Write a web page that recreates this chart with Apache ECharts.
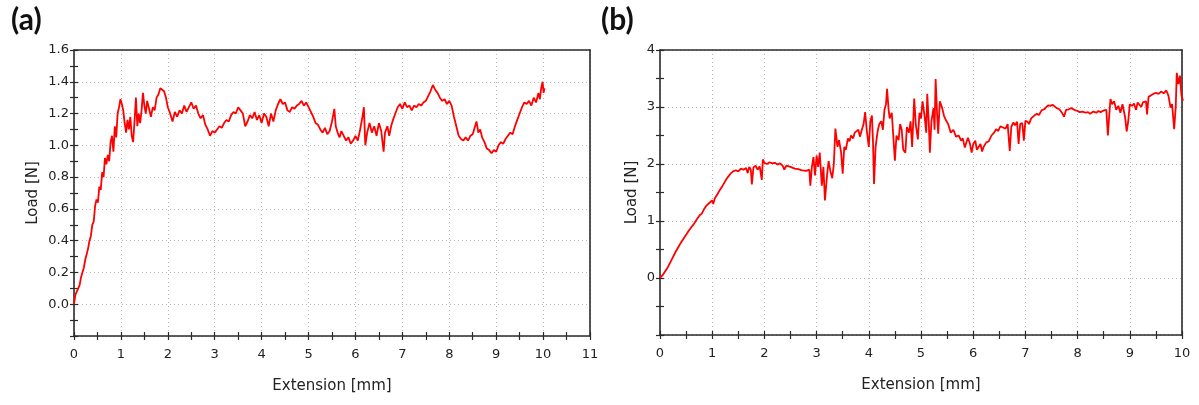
<!DOCTYPE html>
<html>
<head>
<meta charset="utf-8">
<script src="https://cdn.jsdelivr.net/npm/echarts@6/dist/echarts.min.js"></script>
<style>
html,body{margin:0;padding:0;background:#fff;}
#c{width:1199px;height:405px;}
</style>
</head>
<body>
<div id="c"></div>
<script>
// ---- Data: panel (a) ----
const aExt = [0.00,0.03,0.06,0.09,0.12,0.15,0.18,0.21,0.24,0.27,0.30,0.33,0.36,0.39,0.42,0.45,0.48,0.51,0.54,0.57,0.60,0.63,0.66,0.69,0.72,0.75,0.78,0.81,0.84,0.87,0.90,0.93,0.96,0.99,1.02,1.05,1.08,1.11,1.14,1.17,1.20,1.23,1.26,1.29,1.32,1.35,1.38,1.41,1.44,1.47,1.50,1.53,1.56,1.60,1.64,1.68,1.72,1.76,1.80,1.84,1.88,1.92,1.96,2.00,2.05,2.10,2.15,2.20,2.25,2.30,2.35,2.40,2.45,2.50,2.55,2.60,2.65,2.70,2.75,2.80,2.85,2.90,2.95,3.00,3.05,3.10,3.15,3.20,3.25,3.30,3.35,3.40,3.45,3.50,3.55,3.60,3.65,3.70,3.75,3.80,3.85,3.90,3.95,4.00,4.05,4.10,4.15,4.20,4.25,4.30,4.35,4.40,4.45,4.50,4.55,4.60,4.65,4.70,4.75,4.80,4.85,4.90,4.95,5.00,5.05,5.10,5.15,5.20,5.25,5.30,5.35,5.40,5.45,5.50,5.55,5.58,5.62,5.66,5.70,5.75,5.80,5.85,5.90,5.95,6.00,6.05,6.10,6.15,6.18,6.21,6.25,6.30,6.35,6.40,6.45,6.50,6.55,6.60,6.63,6.68,6.72,6.76,6.80,6.85,6.90,6.95,7.00,7.05,7.10,7.15,7.20,7.25,7.30,7.35,7.40,7.45,7.50,7.55,7.60,7.65,7.70,7.75,7.80,7.85,7.90,7.95,8.00,8.05,8.10,8.15,8.20,8.25,8.30,8.35,8.40,8.45,8.50,8.55,8.58,8.62,8.66,8.70,8.75,8.80,8.85,8.90,8.95,9.00,9.05,9.10,9.15,9.20,9.25,9.30,9.35,9.40,9.45,9.50,9.55,9.60,9.65,9.70,9.75,9.80,9.85,9.90,9.93,9.96,9.99,10.01,10.03];
const aLoad = [0.00,0.06,0.05,0.10,0.12,0.17,0.16,0.23,0.28,0.27,0.35,0.40,0.43,0.50,0.52,0.62,0.66,0.64,0.74,0.72,0.83,0.80,0.92,0.88,0.94,0.90,1.02,1.06,0.96,1.12,1.05,1.20,1.24,1.29,1.26,1.22,1.14,1.08,1.16,1.10,1.18,1.06,1.02,1.15,1.30,1.12,1.20,1.14,1.22,1.33,1.25,1.20,1.28,1.23,1.18,1.24,1.22,1.30,1.32,1.36,1.37,1.34,1.30,1.24,1.20,1.15,1.21,1.18,1.22,1.20,1.25,1.21,1.24,1.27,1.23,1.25,1.20,1.17,1.19,1.13,1.10,1.06,1.09,1.08,1.10,1.12,1.11,1.14,1.16,1.15,1.19,1.21,1.20,1.24,1.22,1.20,1.12,1.15,1.19,1.17,1.21,1.16,1.19,1.14,1.20,1.18,1.12,1.20,1.15,1.22,1.26,1.29,1.26,1.27,1.22,1.21,1.24,1.23,1.25,1.26,1.28,1.25,1.27,1.24,1.21,1.18,1.14,1.13,1.10,1.08,1.11,1.07,1.09,1.15,1.23,1.12,1.08,1.05,1.09,1.06,1.03,1.05,1.01,1.03,1.06,1.03,1.10,1.18,1.24,1.00,1.08,1.14,1.08,1.12,1.06,1.14,1.09,0.96,1.08,1.12,1.06,1.12,1.16,1.20,1.24,1.26,1.23,1.27,1.24,1.25,1.22,1.25,1.24,1.26,1.25,1.27,1.28,1.31,1.34,1.38,1.35,1.33,1.30,1.28,1.29,1.26,1.28,1.25,1.18,1.12,1.06,1.04,1.03,1.05,1.03,1.06,1.07,1.12,1.15,1.08,1.10,1.05,1.02,0.98,0.97,0.95,0.97,0.96,1.00,1.02,1.01,1.04,1.06,1.08,1.07,1.12,1.16,1.20,1.24,1.27,1.26,1.28,1.25,1.30,1.27,1.33,1.29,1.36,1.40,1.33,1.36];

// ---- Data: panel (b) ----
const bExt = [0.00,0.05,0.10,0.15,0.20,0.25,0.30,0.35,0.40,0.45,0.50,0.55,0.60,0.65,0.70,0.76,0.80,0.84,0.89,0.92,0.95,1.00,1.02,1.05,1.10,1.15,1.20,1.25,1.30,1.35,1.40,1.45,1.50,1.55,1.60,1.65,1.68,1.71,1.74,1.76,1.79,1.83,1.87,1.91,1.95,1.97,2.00,2.05,2.10,2.15,2.20,2.25,2.30,2.35,2.38,2.42,2.50,2.58,2.65,2.72,2.80,2.86,2.88,2.91,2.94,2.97,3.00,3.03,3.06,3.10,3.13,3.16,3.20,3.23,3.27,3.30,3.33,3.36,3.40,3.43,3.47,3.50,3.53,3.56,3.60,3.63,3.66,3.70,3.73,3.76,3.80,3.83,3.86,3.90,3.93,3.96,4.00,4.03,4.06,4.08,4.10,4.13,4.17,4.20,4.24,4.27,4.30,4.33,4.35,4.38,4.40,4.44,4.47,4.50,4.53,4.57,4.60,4.63,4.66,4.70,4.73,4.77,4.80,4.83,4.87,4.90,4.94,4.97,5.00,5.03,5.07,5.10,5.12,5.15,5.17,5.20,5.24,5.26,5.28,5.31,5.33,5.36,5.40,5.44,5.47,5.52,5.57,5.62,5.67,5.72,5.77,5.80,5.84,5.87,5.90,5.94,5.97,6.00,6.04,6.07,6.10,6.14,6.17,6.20,6.25,6.30,6.35,6.40,6.44,6.48,6.52,6.57,6.62,6.66,6.70,6.73,6.77,6.80,6.84,6.87,6.90,6.94,6.97,7.00,7.04,7.07,7.11,7.14,7.17,7.22,7.26,7.31,7.36,7.40,7.44,7.48,7.52,7.55,7.60,7.65,7.70,7.74,7.78,7.83,7.88,7.91,7.96,8.00,8.04,8.10,8.15,8.20,8.24,8.30,8.36,8.40,8.44,8.50,8.55,8.58,8.61,8.63,8.66,8.70,8.74,8.78,8.82,8.86,8.91,8.94,8.97,9.00,9.04,9.08,9.12,9.15,9.18,9.22,9.25,9.28,9.31,9.33,9.36,9.40,9.45,9.50,9.55,9.60,9.65,9.70,9.74,9.78,9.81,9.85,9.88,9.90,9.93,9.96,9.99,10.02];
const bLoad = [0.00,0.05,0.12,0.19,0.28,0.37,0.46,0.54,0.62,0.69,0.76,0.83,0.89,0.95,1.02,1.10,1.13,1.20,1.27,1.24,1.32,1.36,1.30,1.40,1.47,1.55,1.62,1.70,1.77,1.83,1.87,1.89,1.87,1.92,1.90,1.93,1.84,1.95,1.90,1.64,1.94,1.97,1.90,1.96,1.72,2.08,2.02,2.00,2.03,2.01,2.02,1.99,2.01,1.97,1.90,1.97,1.95,1.92,1.91,1.89,1.88,1.90,1.62,1.95,2.12,1.80,2.15,1.95,2.20,1.62,1.95,1.36,1.80,2.05,1.85,1.75,2.00,2.62,2.30,2.42,2.20,1.83,2.30,2.25,2.45,2.40,2.50,2.45,2.55,2.52,2.60,2.48,2.58,2.70,2.91,2.60,2.30,2.75,2.85,2.40,1.65,2.30,2.58,2.70,2.75,2.60,2.95,3.05,3.32,2.95,2.80,2.90,2.87,2.06,2.50,2.42,2.70,2.60,2.25,2.20,2.65,2.55,2.75,2.30,3.15,2.70,2.43,2.90,2.80,3.10,2.83,2.55,3.23,2.70,2.20,2.75,2.98,2.60,3.49,2.85,2.53,3.10,3.00,2.85,2.78,2.70,2.55,2.60,2.48,2.50,2.41,2.45,2.29,2.38,2.46,2.35,2.20,2.35,2.41,2.25,2.27,2.35,2.22,2.30,2.38,2.40,2.50,2.55,2.61,2.58,2.66,2.64,2.62,2.70,2.23,2.65,2.73,2.68,2.74,2.35,2.70,2.72,2.41,2.76,2.74,2.70,2.80,2.78,2.85,2.88,2.86,2.94,2.96,3.00,3.03,3.02,3.04,3.06,2.98,2.96,2.90,2.83,2.95,2.96,2.98,2.97,2.94,2.93,2.91,2.92,2.90,2.91,2.88,2.92,2.90,2.93,2.91,2.94,2.95,2.50,2.90,3.14,3.05,3.10,2.95,3.02,2.90,3.05,2.82,2.57,2.75,3.05,3.02,3.06,2.95,3.08,3.06,3.00,3.08,3.05,3.10,2.87,3.18,3.20,3.23,3.25,3.23,3.27,3.24,3.29,3.20,2.99,3.05,2.61,3.00,3.60,3.40,3.55,3.20,3.11];

// ---- Axis tick settings ----
const aXTicks = {min: 0, max: 11, step: 1};
const aYTicks = {min: -0.2, max: 1.6, step: 0.2};
const bXTicks = {min: 0, max: 10, step: 1};
const bYTicks = {min: -1, max: 4, step: 1};

const pair = (xs, ys) => xs.map((x, i) => [x, ys[i]]);

const FONT = 'DejaVu Sans';
const TXT = '#222';
const AXC = '#2a2a2a';
const gridLine = {show: true, lineStyle: {color: '#b8b8b8', type: [1, 3], width: 1}};

// kind: 'main' (labels, line, outer ticks), 'inner' (inner ticks), 'frame' (opposite border line only)
function xAx(gi, t, kind) {
  const main = kind === 'main', inner = kind === 'inner', frame = kind === 'frame';
  return {
    type: 'value', gridIndex: gi, min: t.min, max: t.max, interval: t.step,
    position: frame ? 'top' : 'bottom',
    name: main ? 'Extension [mm]' : '', nameLocation: 'middle', nameGap: 43,
    nameTextStyle: {fontFamily: FONT, fontSize: 15, color: TXT},
    axisLine: {show: main || frame, onZero: false, lineStyle: {color: AXC, width: 1.6}},
    axisTick: {show: !frame, inside: inner, length: 4, lineStyle: {color: AXC, width: 1.2}},
    minorTick: {show: !frame, splitNumber: 2, length: 4, lineStyle: {color: AXC, width: 1.2}},
    axisLabel: {show: main, margin: 12, fontFamily: FONT, fontSize: 13, color: TXT},
    splitLine: main ? gridLine : {show: false}
  };
}
function yAx(gi, t, kind, dec, gap) {
  const main = kind === 'main', inner = kind === 'inner', frame = kind === 'frame';
  return {
    type: 'value', gridIndex: gi, min: t.min, max: t.max, interval: t.step,
    position: frame ? 'right' : 'left',
    name: main ? 'Load [N]' : '', nameLocation: 'middle', nameGap: gap,
    nameTextStyle: {fontFamily: FONT, fontSize: 15, color: TXT},
    axisLine: {show: main || frame, onZero: false, lineStyle: {color: AXC, width: 1.6}},
    axisTick: {show: !frame, inside: inner, length: 4, lineStyle: {color: AXC, width: 1.2}},
    minorTick: {show: !frame, splitNumber: 2, length: 4, lineStyle: {color: AXC, width: 1.2}},
    axisLabel: {show: main, margin: 5, fontFamily: FONT, fontSize: 13, color: TXT,
      formatter: v => (v < -1e-9 ? '' : v.toFixed(dec))},
    splitLine: main ? gridLine : {show: false}
  };
}

const chart = echarts.init(document.getElementById('c'), null, {renderer: 'canvas'});
chart.setOption({
  backgroundColor: '#fff',
  animation: false,
  title: [
    {text: '(a)', left: 6, top: 0, textStyle: {fontFamily: 'Lato', fontWeight: 'bold', fontSize: 30, color: '#111'}},
    {text: '(b)', left: 596, top: 0, textStyle: {fontFamily: 'Lato', fontWeight: 'bold', fontSize: 30, color: '#111'}}
  ],
  grid: [
    {left: 74, top: 50, width: 516, height: 286, show: false},
    {left: 660, top: 50, width: 522, height: 285, show: false}
  ],
  xAxis: [xAx(0, aXTicks, 'main'), xAx(1, bXTicks, 'main'), xAx(0, aXTicks, 'inner'), xAx(1, bXTicks, 'inner'),
          xAx(0, aXTicks, 'frame'), xAx(1, bXTicks, 'frame')],
  yAxis: [yAx(0, aYTicks, 'main', 1, 33), yAx(1, bYTicks, 'main', 0, 20), yAx(0, aYTicks, 'inner', 1, 0), yAx(1, bYTicks, 'inner', 0, 0),
          yAx(0, aYTicks, 'frame', 1, 0), yAx(1, bYTicks, 'frame', 0, 0)],
  series: [
    {type: 'line', xAxisIndex: 0, yAxisIndex: 0, data: pair(aExt, aLoad), showSymbol: false, symbol: 'none',
     lineStyle: {color: '#ff0000', width: 1.8}, z: 5},
    {type: 'line', xAxisIndex: 1, yAxisIndex: 1, data: pair(bExt, bLoad), showSymbol: false, symbol: 'none',
     lineStyle: {color: '#ff0000', width: 1.8}, z: 5}
  ]
});
</script>
</body>
</html>
